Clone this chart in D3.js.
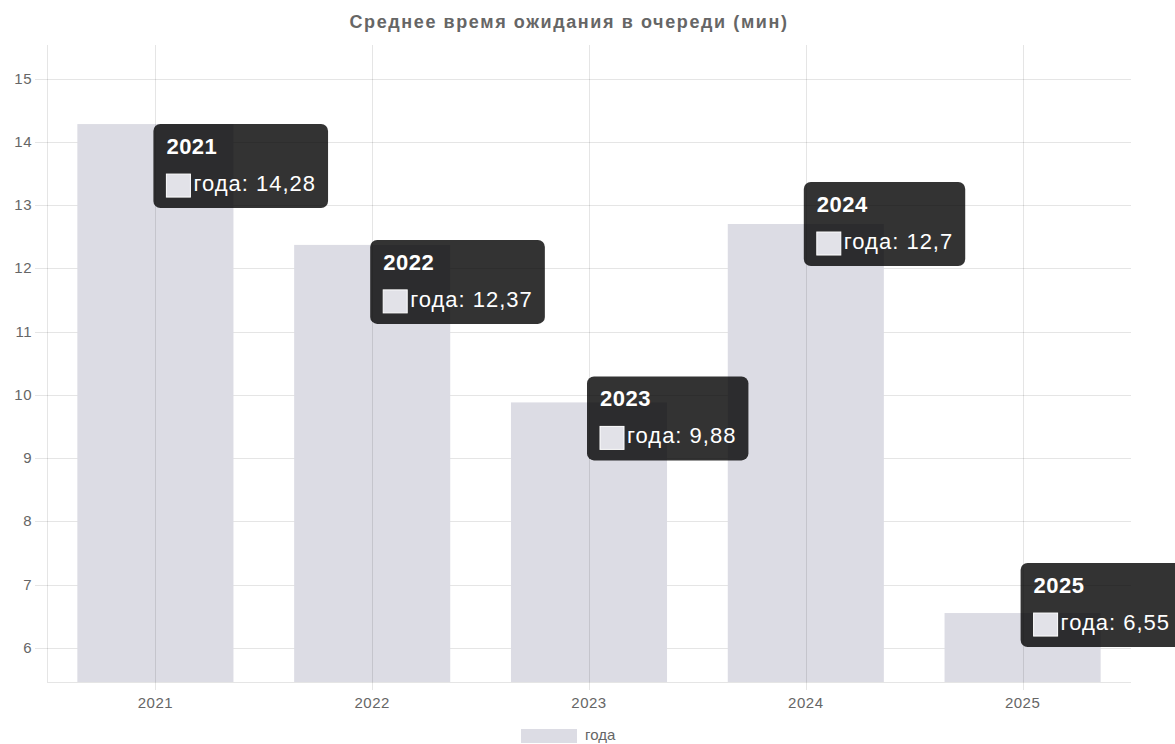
<!DOCTYPE html>
<meta charset="utf-8">
<style>
    body {
        margin: 0;
        background: #fff;
        font-family: "Liberation Sans", Arial, sans-serif;
    }
</style>

<body>
    <svg width="1175" height="744"></svg>
    <script src="https://d3js.org/d3.v7.min.js"></script>
    <script>
        // chart data
        var years = ["2021", "2022", "2023", "2024", "2025"];
        var waitMinutes = [14.28, 12.37, 9.88, 12.7, 6.55];
        var yTicks = [6, 7, 8, 9, 10, 11, 12, 13, 14, 15];
        var seriesName = "года";
        var chartTitle = "Среднее время ожидания в очереди (мин)";

        var svg = d3.select("svg");
        var plotLeft = 47, plotRight = 1131, plotTop = 45, plotBottom = 682;

        var x = d3.scaleBand().domain(years).range([plotLeft, plotRight]).paddingInner(0).paddingOuter(0);
        var y = d3.scaleLinear().domain([5.46, 15.53]).range([plotBottom, plotTop]);

        var gridColor = "rgba(0,0,0,0.1)";
        var textColor = "#666";
        var barColor = "#dcdce4";

        // horizontal grid + y ticks
        svg.append("g").selectAll("line")
            .data(yTicks)
            .enter().append("line")
            .attr("x1", plotLeft - 12).attr("x2", plotRight)
            .attr("y1", function(d) { return Math.round(y(d)) + 0.5; })
            .attr("y2", function(d) { return Math.round(y(d)) + 0.5; })
            .attr("stroke", gridColor);

        svg.append("g").selectAll("text")
            .data(yTicks)
            .enter().append("text")
            .attr("x", plotLeft - 15)
            .attr("y", function(d) { return y(d) + 5; })
            .attr("text-anchor", "end")
            .attr("font-size", 15)
            .attr("letter-spacing", 0.5)
            .attr("fill", textColor)
            .text(function(d) { return d; });

        // bars
        var barW = x.bandwidth() * 0.72;
        svg.append("g").selectAll("rect")
            .data(waitMinutes)
            .enter().append("rect")
            .attr("x", function(d, i) { return x(years[i]) + (x.bandwidth() - barW) / 2; })
            .attr("y", function(d) { return y(d); })
            .attr("width", barW)
            .attr("height", function(d) { return plotBottom - y(d); })
            .attr("fill", barColor);

        // vertical grid (category centres) + left border
        var vx = [plotLeft].concat(years.map(function(c) { return x(c) + x.bandwidth() / 2; }));
        svg.append("g").selectAll("line")
            .data(vx)
            .enter().append("line")
            .attr("x1", function(d) { return Math.round(d) + 0.5; })
            .attr("x2", function(d) { return Math.round(d) + 0.5; })
            .attr("y1", plotTop)
            .attr("y2", function(d, i) { return i == 0 ? plotBottom : plotBottom + 8; })
            .attr("stroke", gridColor);

        svg.append("line")
            .attr("x1", plotLeft).attr("x2", plotRight)
            .attr("y1", plotBottom + 0.5).attr("y2", plotBottom + 0.5)
            .attr("stroke", gridColor);

        svg.append("g").selectAll("text")
            .data(years)
            .enter().append("text")
            .attr("x", function(d) { return x(d) + x.bandwidth() / 2; })
            .attr("y", plotBottom + 26)
            .attr("text-anchor", "middle")
            .attr("font-size", 15)
            .attr("letter-spacing", 0.5)
            .attr("fill", textColor)
            .text(function(d) { return d; });

        // title
        svg.append("text")
            .attr("x", 569)
            .attr("y", 28)
            .attr("text-anchor", "middle")
            .attr("font-size", 18)
            .attr("font-weight", "bold")
            .attr("letter-spacing", 1.6)
            .attr("fill", textColor)
            .text(chartTitle);

        // legend
        svg.append("rect")
            .attr("x", 521).attr("y", 729)
            .attr("width", 56).attr("height", 14)
            .attr("fill", barColor);
        svg.append("text")
            .attr("x", 585).attr("y", 740)
            .attr("font-size", 15)
            .attr("fill", textColor)
            .text(seriesName);

        // tooltips, shifted up from bar top as in the screenshot
        var tipShift = [0, -5, -26, -42, -50];
        var tips = svg.append("g");
        waitMinutes.forEach(function(v, i) {
            var tx = x(years[i]) + x.bandwidth() / 2 - 2;
            var ty = y(v) + tipShift[i];
            var g = tips.append("g").attr("transform", "translate(" + tx + "," + ty + ")");
            var box = g.append("rect")
                .attr("rx", 7).attr("ry", 7)
                .attr("height", 84)
                .attr("fill", "rgba(0,0,0,0.8)");
            g.append("text")
                .attr("x", 13).attr("y", 30)
                .attr("font-size", 22)
                .attr("font-weight", "bold")
                .attr("letter-spacing", 0.5)
                .attr("fill", "#fff")
                .text(years[i]);
            g.append("rect")
                .attr("x", 13).attr("y", 50)
                .attr("width", 24).attr("height", 23)
                .attr("fill", "#e2e2e8")
                .attr("stroke", "#fff")
                .attr("stroke-width", 1);
            var body = g.append("text")
                .attr("x", 40).attr("y", 67)
                .attr("font-size", 22)
                .attr("letter-spacing", 1)
                .attr("fill", "#fff")
                .text(seriesName + ": " + String(v).replace(".", ","));
            var w = 40 + body.node().getComputedTextLength() + 12;
            box.attr("width", w);
        });
    </script>
</body>
